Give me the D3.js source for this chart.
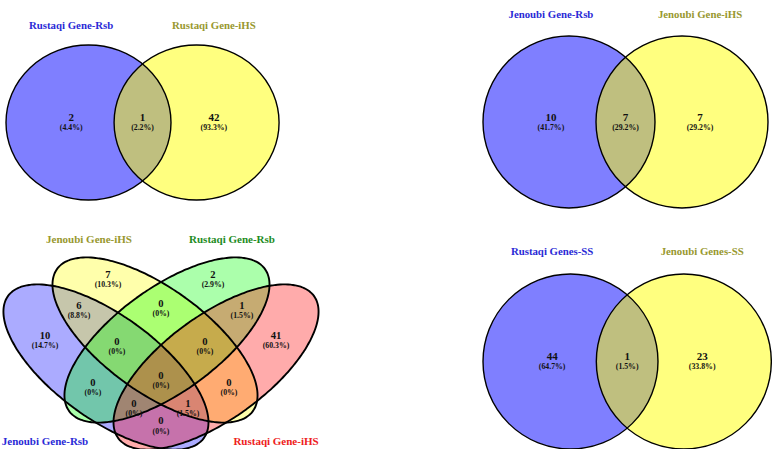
<!DOCTYPE html>
<html><head><meta charset="utf-8">
<script src="https://cdn.jsdelivr.net/npm/d3@7"></script>
<style>html,body{margin:0;padding:0;background:#fff;} svg{display:block;}</style>
</head><body>
<svg id="chart" width="772" height="449"></svg>
<script>
// ---------------- data ----------------
const rustaqiCats = ["Rustaqi Gene-Rsb", "Rustaqi Gene-iHS"];
const rustaqiVals = [2, 1, 42];          // only A, A∩B, only B
const jenoubiCats = ["Jenoubi Gene-Rsb", "Jenoubi Gene-iHS"];
const jenoubiVals = [10, 7, 7];
const ssCats = ["Rustaqi Genes-SS", "Jenoubi Genes-SS"];
const ssVals = [44, 1, 23];

const quadCats = ["Jenoubi Gene-Rsb", "Jenoubi Gene-iHS", "Rustaqi Gene-Rsb", "Rustaqi Gene-iHS"];
const quadKeys = ["1000","0100","0010","0001","1100","0110","0011","1010","0101","1001","1110","0111","1011","1101","1111"];
const quadVals = [10, 7, 2, 41, 6, 0, 1, 0, 0, 0, 0, 0, 0, 1, 0];

// ---------------- helpers ----------------
const FONT = "'Liberation Serif','Times New Roman',serif";
function pct(v, total) {
  return v === 0 ? "(0%)" : "(" + (v / total * 100).toFixed(1) + "%)";
}
const svg = d3.select("#chart");

function regionLabel(g, px, py, v, total, numSize, pctSize, gap) {
  const t = g.append("text").attr("text-anchor", "middle").attr("font-family", FONT)
    .attr("font-weight", "bold").attr("fill", "#111");
  t.append("tspan").attr("x", px).attr("y", py - gap + numSize * 0.34)
    .attr("font-size", numSize).text(v);
  t.append("tspan").attr("x", px).attr("y", py + gap + pctSize * 0.34)
    .attr("font-size", pctSize).text(pct(v, total));
}

// ---------------- pairwise venns ----------------
const pairPanels = [
  { cats: rustaqiCats, vals: rustaqiVals, cx: 88.5, cy: 122.5, rx: 82.5, ry: 77.5, d: 1.31 },
  { cats: jenoubiCats, vals: jenoubiVals, cx: 569, cy: 122, rx: 86, ry: 86, d: 1.314 },
  { cats: ssCats, vals: ssVals, cx: 570.5, cy: 361.5, rx: 87.5, ry: 87.5, d: 1.295 }
];
const pairFills = ["blue", "yellow"];
const pairCatColors = ["#2a2ad6", "#98982f"];

pairPanels.forEach(p => {
  const x = d3.scaleLinear().domain([0, 1]).range([p.cx, p.cx + p.rx]);
  const y = d3.scaleLinear().domain([0, 1]).range([p.cy, p.cy - p.ry]);
  const g = svg.append("g");
  const centers = [0, p.d];
  const rxp = x(1) - x(0), ryp = y(0) - y(1);
  centers.forEach((c, i) => {
    g.append("ellipse").attr("cx", x(c)).attr("cy", y(0)).attr("rx", rxp).attr("ry", ryp)
      .attr("fill", pairFills[i]).attr("fill-opacity", 0.5).attr("stroke", "none");
  });
  centers.forEach(c => {
    g.append("ellipse").attr("cx", x(c)).attr("cy", y(0)).attr("rx", rxp).attr("ry", ryp)
      .attr("fill", "none").attr("stroke", "#000").attr("stroke-width", 1.4);
  });
  const total = d3.sum(p.vals);
  const lx = [-0.21, p.d / 2, p.d + 0.21];
  p.vals.forEach((v, i) => regionLabel(g, x(lx[i]), y(0), v, total, 11, 7.8, 5.2));
  const cxs = [-0.21, p.d + 0.21];
  p.cats.forEach((t, i) => {
    g.append("text").attr("x", x(cxs[i])).attr("y", y(1.255) + 3.6)
      .attr("text-anchor", "middle").attr("font-family", FONT).attr("font-weight", "bold")
      .attr("font-size", 10.8).attr("fill", pairCatColors[i]).text(t);
  });
});

// ---------------- four-set venn ----------------
const qx = d3.scaleLinear().domain([0, 1]).range([1, 321]);
const qy = d3.scaleLinear().domain([0, 1]).range([500, 180]);
const quadEllipses = [
  { c: [0.328, 0.4156], a: 0.378, b: 0.1625, rot: -36, fill: "blue" },
  { c: [0.4813, 0.5], a: 0.378, b: 0.1625, rot: -36, fill: "yellow" },
  { c: [0.5187, 0.5], a: 0.378, b: 0.1625, rot: 36, fill: "#00ff00" },
  { c: [0.672, 0.4156], a: 0.378, b: 0.1625, rot: 36, fill: "red" }
];
const quadCatColors = ["#2a2ad6", "#98982f", "#1e8c1e", "#ee2020"];
const quadCatPos = [[0.1375, 0.1844], [0.275, 0.8156], [0.7219, 0.8156], [0.8594, 0.1844]];
const quadLabelPos = {
  "1000": [0.1375, 0.5], "0100": [0.3344, 0.6906], "0010": [0.6625, 0.6906], "0001": [0.8594, 0.5],
  "1100": [0.2438, 0.5922], "0110": [0.5, 0.5984], "0011": [0.7531, 0.5922],
  "1010": [0.2875, 0.3531], "0101": [0.7125, 0.3531], "1001": [0.5, 0.2313],
  "1110": [0.3625, 0.4797], "0111": [0.6375, 0.4797], "1011": [0.4156, 0.2875], "1101": [0.5844, 0.2875],
  "1111": [0.5, 0.375]
};

function ellipsePoints(e) {
  const phi = e.rot * Math.PI / 180;
  return d3.range(0, 360, 2).map(deg => {
    const t = deg * Math.PI / 180;
    return [
      e.c[0] + e.a * Math.cos(t) * Math.cos(phi) - e.b * Math.sin(t) * Math.sin(phi),
      e.c[1] + e.a * Math.cos(t) * Math.sin(phi) + e.b * Math.sin(t) * Math.cos(phi)
    ];
  });
}
const ellLine = d3.line().x(d => qx(d[0])).y(d => qy(d[1])).curve(d3.curveCardinalClosed);
const gq = svg.append("g");
quadEllipses.forEach(e => {
  gq.append("path").attr("d", ellLine(ellipsePoints(e)))
    .attr("fill", e.fill).attr("fill-opacity", 0.33).attr("stroke", "none");
});
quadEllipses.forEach(e => {
  gq.append("path").attr("d", ellLine(ellipsePoints(e)))
    .attr("fill", "none").attr("stroke", "#000").attr("stroke-width", 1.9);
});
const quadTotal = d3.sum(quadVals);
quadKeys.forEach((k, i) => {
  const p = quadLabelPos[k];
  regionLabel(gq, qx(p[0]), qy(p[1]), quadVals[i], quadTotal, 10.6, 7.8, 5.1);
});
quadCats.forEach((t, i) => {
  gq.append("text").attr("x", qx(quadCatPos[i][0])).attr("y", qy(quadCatPos[i][1]) + 3.7)
    .attr("text-anchor", "middle").attr("font-family", FONT).attr("font-weight", "bold")
    .attr("font-size", 11).attr("fill", quadCatColors[i]).text(t);
});
</script>
</body></html>
